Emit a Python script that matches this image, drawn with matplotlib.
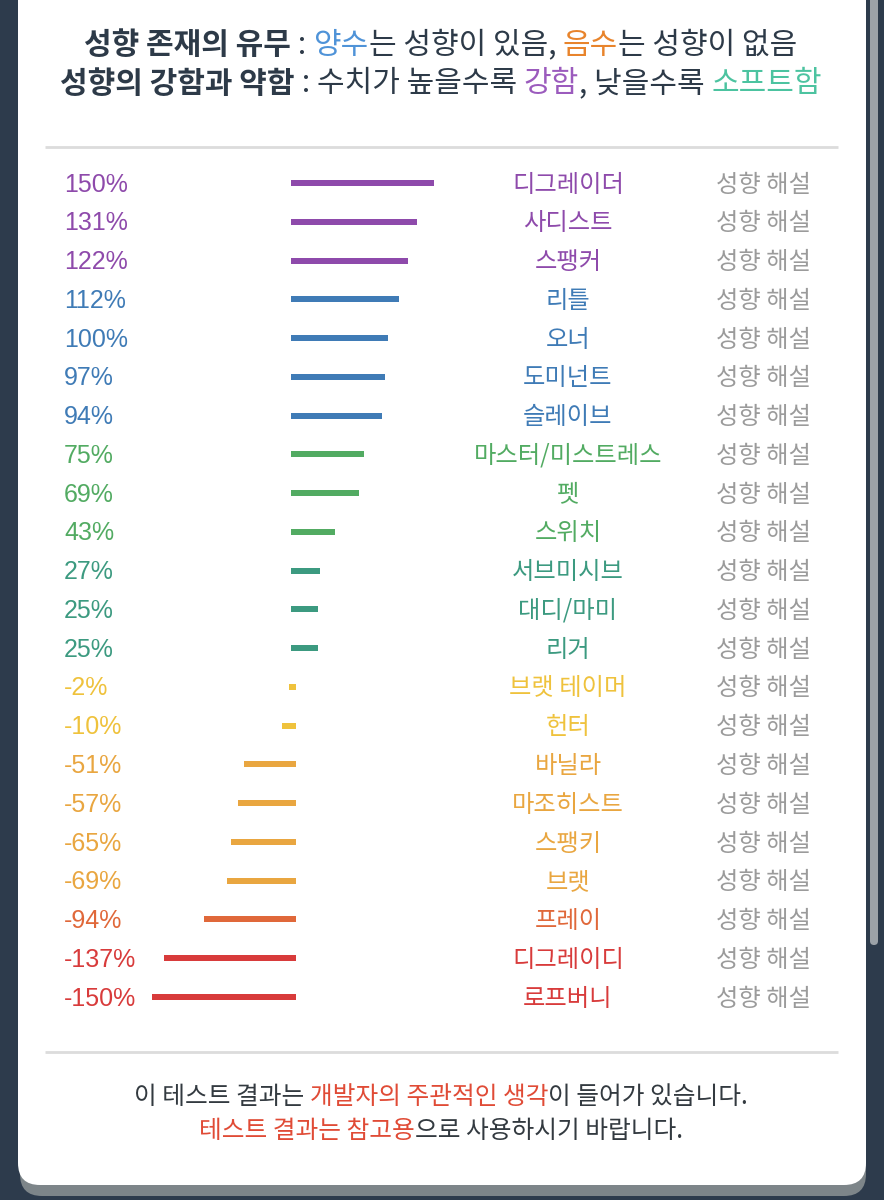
import numpy as np
import matplotlib
matplotlib.use('Agg')
import matplotlib.pyplot as plt
from matplotlib.patches import FancyBboxPatch
from matplotlib.transforms import blended_transform_factory

plt.rcParams['font.family'] = ['Noto Sans CJK KR', 'DejaVu Sans']

# data
nomes = ['디그레이더', '사디스트', '스팽커', '리틀', '오너', '도미넌트', '슬레이브',
         '마스터/미스트레스', '펫', '스위치', '서브미시브', '대디/마미', '리거',
         '브랫 테이머', '헌터', '바닐라', '마조히스트', '스팽키', '브랫', '프레이',
         '디그레이디', '로프버니']
valores = np.array([150, 131, 122, 112, 100, 97, 94, 75, 69, 43, 27, 25, 25,
                    -2, -10, -51, -57, -65, -69, -94, -137, -150])
cores = ['#8e4aab', '#8e4aab', '#8e4aab',
         '#3f7bb6', '#3f7bb6', '#3f7bb6', '#3f7bb6',
         '#52ab62', '#52ab62', '#52ab62',
         '#3c9a80', '#3c9a80', '#3c9a80',
         '#efc23c', '#efc23c',
         '#e9a640', '#e9a640', '#e9a640', '#e9a640',
         '#e0683a', '#d83b3b', '#d83b3b']
legenda = '성향 해설'

cabecalho1 = [('성향 존재의 유무', '#2d3a48', 'bold'), (' : ', '#2d3a48', 'normal'),
              ('양수', '#4f93d8', 'normal'), ('는 성향이 있음, ', '#2d3a48', 'normal'),
              ('음수', '#e8842c', 'normal'), ('는 성향이 없음', '#2d3a48', 'normal')]
cabecalho2 = [('성향의 강함과 약함', '#2d3a48', 'bold'), (' : 수치가 높을수록 ', '#2d3a48', 'normal'),
              ('강함', '#9b5bbd', 'normal'), (', 낮을수록 ', '#2d3a48', 'normal'),
              ('소프트함', '#4cc3a0', 'normal')]
rodape1 = [('이 테스트 결과는 ', '#333a40', 'normal'), ('개발자의 주관적인 생각', '#e04b36', 'normal'),
           ('이 들어가 있습니다.', '#333a40', 'normal')]
rodape2 = [('테스트 결과는 참고용', '#e04b36', 'normal'), ('으로 사용하시기 바랍니다.', '#333a40', 'normal')]

fundo = '#2d3b4c'

fig = plt.figure(figsize=(8.84, 12), dpi=100)
fig.patch.set_facecolor(fundo)

bg = fig.add_axes([0, 0, 1, 1])
bg.set_xlim(0, 884)
bg.set_ylim(1200, 0)
bg.axis('off')

# sombra e cartao
bg.add_patch(FancyBboxPatch((20, -60), 846, 1256, boxstyle='round,pad=0,rounding_size=22',
                            fc='#7d8589', ec='none', zorder=0))
bg.add_patch(FancyBboxPatch((18, -60), 848, 1245, boxstyle='round,pad=0,rounding_size=22',
                            fc='white', ec='none', zorder=1))
# barra de rolagem
bg.add_patch(FancyBboxPatch((870, -10), 8, 955, boxstyle='round,pad=0,rounding_size=4',
                            fc='#9ca2a8', ec='none', zorder=1))
# divisores
bg.plot([45, 838], [147, 147], color='#dcdcdc', lw=2, zorder=2, solid_capstyle='butt')
bg.plot([45, 838], [1052, 1052], color='#dcdcdc', lw=2, zorder=2, solid_capstyle='butt')

renderer = fig.canvas.get_renderer()


def texto_rico(partes, y, tamanho, cx=441):
    objs = []
    for txt, cor, peso in partes:
        t = bg.text(0, y, txt, color=cor, fontsize=tamanho, fontweight=peso,
                    ha='left', va='center', zorder=3)
        objs.append(t)
    larguras = [t.get_window_extent(renderer).width for t in objs]
    x = cx - sum(larguras) / 2
    for t, w in zip(objs, larguras):
        t.set_x(x)
        x += w


texto_rico(cabecalho1, 45, 21.6)
texto_rico(cabecalho2, 84, 21.6)
texto_rico(rodape1, 1097, 17.8)
texto_rico(rodape2, 1131, 17.8)

# grafico de barras
ax = fig.add_axes([100 / 884, 1 - 1016.4 / 1200, 400 / 884, 852.8 / 1200])
ax.set_xlim(-205.4, 224.7)
ax.set_ylim(len(valores) - 0.5, -0.5)
ax.axis('off')
ax.patch.set_alpha(0)

y = np.arange(len(valores))
esquerda = np.where(valores >= 0, 0, valores)
largura = np.where(valores >= 0, valores + 4, -valores + 5)
ax.barh(y, largura, left=esquerda, height=0.155, color=cores, zorder=3)

trans = blended_transform_factory(bg.transData, ax.transData)
for i, (v, n, c) in enumerate(zip(valores, nomes, cores)):
    bg.text(64, i + 0.04, f'{v}%', transform=trans, color=c, fontsize=18,
            family=['Liberation Sans', 'DejaVu Sans'], ha='left', va='center', zorder=3)
    bg.text(568, i + 0.04, n, transform=trans, color=c, fontsize=17.5,
            ha='center', va='center', zorder=3)
    bg.text(763, i + 0.04, legenda, transform=trans, color='#9b9b9b', fontsize=17.5,
            ha='center', va='center', zorder=3)

fig.savefig('out.png', dpi=100, facecolor=fundo)
